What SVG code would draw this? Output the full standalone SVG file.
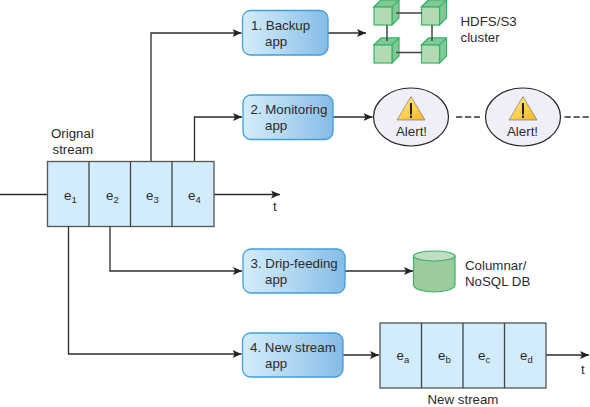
<svg xmlns="http://www.w3.org/2000/svg" width="590" height="407" viewBox="0 0 590 407">
<style>
text{font-family:"Liberation Sans",Arial,sans-serif;font-size:13.300px;fill:#2b2b2b}
.sub{font-size:9.500px}
.app{fill:url(#appg);stroke:#3f9fdc;stroke-width:1.300}
.cell{fill:#d2ecfb;stroke:#555;stroke-width:1.300}
.ln{fill:none;stroke:#2b2b2b;stroke-width:1.300}
.arr{fill:none;stroke:#2b2b2b;stroke-width:1.300;marker-end:url(#ah)}
.dash{fill:none;stroke:#333;stroke-width:1.300;stroke-dasharray:6.300 2.700}
.cf{fill:#b3d9b5;stroke:#35b565;stroke-width:1.200}
.cs{fill:#84c796;stroke:#35b565;stroke-width:1.200}
.bar{fill:none;stroke:#444;stroke-width:1.500}
.ell{fill:#f0eff7;stroke:#222;stroke-width:1.200}
.tri{fill:url(#tg);stroke:#666;stroke-width:.6}
.ex{fill:none;stroke:#222;stroke-width:2}
</style>
<defs>
<linearGradient id="appg" x1="0" y1="0" x2="1" y2="0"><stop offset="0" stop-color="#d3ecfb"/><stop offset=".45" stop-color="#b3d9f3"/><stop offset="1" stop-color="#86bbe6"/></linearGradient>
<linearGradient id="tg" x1="0" y1="0" x2="1" y2="1"><stop offset="0" stop-color="#ffec8a"/><stop offset="1" stop-color="#f8b81c"/></linearGradient>
<marker id="ah" markerUnits="userSpaceOnUse" markerWidth="10" markerHeight="8" refX="9" refY="4" orient="auto"><path d="M0 0L9 4L0 8L2 4Z" fill="#222"/></marker>
<g id="cube"><path class="cs" d="M0 0L7-7H25V11L18 18V0Z"/><path class="cs" d="M0 0L7-7H25L18 0Z"/><rect class="cf" x="0" y="0" width="18" height="18"/></g>
</defs>
<g id="connectors">
<path class="ln" d="M0 194.500H47.500"/>
<path class="arr" d="M214 194.500H280"/>
<path class="arr" d="M151 161.500V33H241.500"/>
<path class="arr" d="M194.500 161.500V117H242"/>
<path class="arr" d="M68.500 226.500V354H241.500"/>
<path class="arr" d="M110 226.500V271H242"/>
<path class="arr" d="M328 33H366"/>
<path class="arr" d="M333 117H372.500"/>
<path class="arr" d="M345 271H413"/>
<path class="arr" d="M343 355H379"/>
<path class="arr" d="M546 355H589"/>
<path class="dash" d="M456 117H480"/>
<path class="dash" d="M564.500 117H590"/>
</g>
<g id="stream1">
<rect class="cell" x="47.500" y="161.500" width="166.500" height="65"/>
<path class="ln" style="stroke:#444" d="M89 161.500V226.500M130.500 161.500V226.500M172 161.500V226.500"/>
<text x="64" y="199.500">e<tspan class="sub" dy="3">1</tspan></text>
<text x="106" y="199.500">e<tspan class="sub" dy="3">2</tspan></text>
<text x="146" y="199.500">e<tspan class="sub" dy="3">3</tspan></text>
<text x="188" y="199.500">e<tspan class="sub" dy="3">4</tspan></text>
<text x="51" y="138">Orignal</text>
<text x="52.500" y="154">stream</text>
<text x="273" y="211">t</text>
</g>
<g id="app1"><rect class="app" x="242.500" y="10.500" width="85.500" height="44.500" rx="8"/><text x="251" y="30">1. Backup</text><text x="265" y="46">app</text></g>
<g id="app2"><rect class="app" x="243" y="95" width="90" height="44.500" rx="8"/><text x="250.500" y="114">2. Monitoring</text><text x="265" y="130">app</text></g>
<g id="app3"><rect class="app" x="243" y="249" width="102" height="44" rx="8"/><text x="250.500" y="268">3. Drip-feeding</text><text x="265" y="284">app</text></g>
<g id="app4"><rect class="app" x="242.500" y="333" width="100.500" height="44" rx="8"/><text x="250" y="352">4. New stream</text><text x="265" y="368">app</text></g>
<g id="cluster">
<use href="#cube" x="374" y="7"/><use href="#cube" x="421.500" y="7"/><use href="#cube" x="374" y="45"/><use href="#cube" x="421.500" y="45"/>
<path class="bar" d="M396 13H422M387 25V41M432 25V41M396 52.500H422"/>
<text x="460.500" y="26">HDFS/S3</text><text x="460.500" y="42">cluster</text>
</g>
<g id="alert1"><ellipse class="ell" cx="411" cy="117" rx="37.500" ry="29"/><path class="tri" d="M411 96.500L425 120H397Z"/><path class="ex" d="M411 103V114.500M411 115.500V118"/><text x="396" y="135.500">Alert!</text></g>
<g id="alert2"><ellipse class="ell" cx="523" cy="117" rx="37.500" ry="29"/><path class="tri" d="M523 96.500L537 120H509Z"/><path class="ex" d="M523 103V114.500M523 115.500V118"/><text x="507" y="135.500">Alert!</text></g>
<g id="db">
<path d="M413.500 256V285C413.500 289 424 292 434 292S455 289 455 285V256Z" fill="#9ccb9e" stroke="#35b565" stroke-width="1.200"/>
<ellipse cx="434.250" cy="256" rx="20.750" ry="5" fill="#c3dcc4" stroke="#35b565" stroke-width="1.200"/>
<text x="465" y="270">Columnar/</text><text x="465" y="286">NoSQL DB</text>
</g>
<g id="stream2">
<rect class="cell" x="380" y="323" width="166" height="65"/>
<path class="ln" style="stroke:#444" d="M421.500 323V388M463 323V388M504.500 323V388"/>
<text x="396.500" y="360">e<tspan class="sub" dy="3">a</tspan></text>
<text x="438" y="360">e<tspan class="sub" dy="3">b</tspan></text>
<text x="478" y="360">e<tspan class="sub" dy="3">c</tspan></text>
<text x="520" y="360">e<tspan class="sub" dy="3">d</tspan></text>
<text x="427.500" y="404">New stream</text>
<text x="581" y="374">t</text>
</g>
</svg>
